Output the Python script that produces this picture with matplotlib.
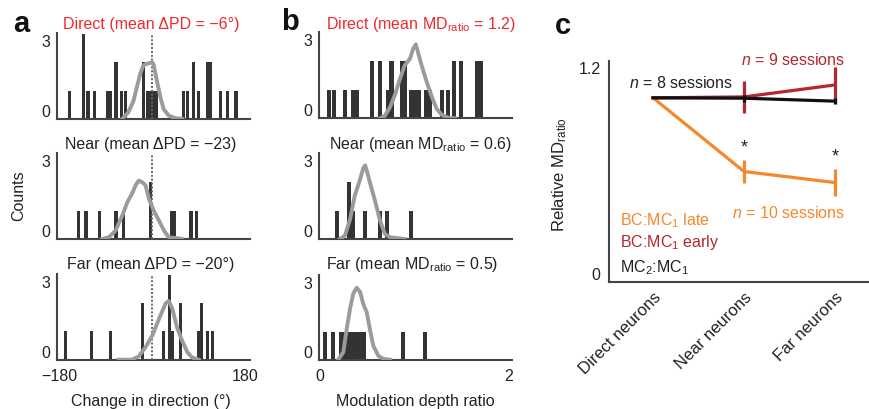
import matplotlib
matplotlib.use('Agg')
import matplotlib.pyplot as plt

plt.rcParams['font.family'] = ['Liberation Sans', 'DejaVu Sans']
plt.rcParams['mathtext.fontset'] = 'custom'
plt.rcParams['mathtext.rm'] = 'Liberation Sans'
plt.rcParams['mathtext.it'] = 'Liberation Sans:italic'
plt.rcParams['mathtext.bf'] = 'Liberation Sans:bold'

W, H = 870, 410

# ---- a: change in preferred direction (deg), bar centres and counts ----
pd_width = 6
pd_direct_x = [-159, -132, -124, -112, -87, -81, -70, -60, -51, -17, -9, -3, 3, 9,
               60, 69, 80, 90, 106, 112, 132, 146, 162]
pd_direct_n = [1, 3, 1, 1, 1, 1, 2, 1, 1, 2, 1, 1, 1, 1,
               1, 1, 2, 1, 2, 2, 1, 1, 1]
pd_near_x = [-143, -128, -102, -70, -56, -3, 37, 43, 75, 86]
pd_near_n = [1, 1, 1, 1, 1, 2, 1, 1, 1, 1]
pd_far_x = [-168, -117, -81, -18, 22, 34, 40, 54, 89, 95, 106, 116]
pd_far_n = [1, 1, 1, 2, 1, 3, 1, 2, 1, 2, 1, 1]

# shuffled (null) distributions, smoothed
pd_direct_cx = [-58, -46, -36, -30, -23, -17, -10, 0, 3, 9, 16, 22, 32, 45, 58]
pd_direct_cy = [0, 0.24, 0.65, 1.1, 1.6, 1.9, 1.95, 2.0, 1.9, 1.35, 0.76, 0.35, 0.12, 0.03, 0]
pd_near_cx = [-97, -84, -71, -58, -48, -39, -32, -26, -19, -13, -6, 3, 13, 23, 32, 52, 58]
pd_near_cy = [0, 0.06, 0.29, 0.82, 1.3, 1.6, 1.9, 2.06, 2.0, 1.9, 1.4, 1.0, 0.65, 0.29, 0.06, 0.02, 0]
pd_far_cx = [-65, -39, -26, -13, 0, 13, 26, 32, 39, 48, 58, 68, 77, 90]
pd_far_cy = [0, 0, 0.12, 0.44, 0.85, 1.44, 2.0, 2.08, 1.8, 1.14, 0.67, 0.26, 0.08, 0]

# ---- b: modulation depth ratio ----
md_width = 0.043
md_direct_x = [0.10, 0.145, 0.27, 0.35, 0.39, 0.555, 0.64, 0.72, 0.76, 0.87, 0.90,
               0.97, 1.015, 1.055, 1.13, 1.17, 1.30, 1.36, 1.42, 1.50, 1.67, 1.71]
md_direct_n = [1, 1, 1, 1, 1, 2, 2, 1, 2, 2, 2,
               1, 1, 1, 1, 1, 1, 1, 2, 2, 2, 2]
md_near_x = [0.18, 0.305, 0.35, 0.475, 0.635, 0.715, 0.965]
md_near_n = [1, 2, 1, 1, 1, 1, 1]
md_far_x = [0.056, 0.14, 0.226, 0.269, 0.312, 0.355, 0.398, 0.441, 0.468, 0.88, 1.12]
md_far_n = [1, 1, 1, 1, 1, 1, 1, 1, 1, 1, 1]

md_direct_cx = [0.64, 0.69, 0.745, 0.80, 0.85, 0.90, 0.957, 0.99, 1.018, 1.046, 1.08,
                1.135, 1.19, 1.24, 1.295, 1.365, 1.436]
md_direct_cy = [0, 0.09, 0.39, 0.86, 1.39, 1.86, 2.1, 2.45, 2.6, 2.27, 1.86,
                1.27, 0.74, 0.33, 0.12, 0.02, 0]
md_near_cx = [0.213, 0.266, 0.32, 0.37, 0.426, 0.46, 0.48, 0.503, 0.53, 0.585, 0.638,
              0.69, 0.745, 0.85, 0.9]
md_near_cy = [0, 0.12, 0.7, 1.53, 2.1, 2.5, 2.6, 2.35, 2.0, 1.35, 0.65,
              0.18, 0.06, 0.02, 0]
md_far_cx = [0.195, 0.248, 0.284, 0.32, 0.354, 0.39, 0.426, 0.46, 0.497, 0.53, 0.567,
             0.62, 0.673, 0.745]
md_far_cy = [0, 0.27, 1.1, 1.83, 2.37, 2.58, 2.43, 2.0, 1.7, 1.1, 0.5,
             0.14, 0.03, 0]

# ---- c: relative MD ratio per session group ----
groups = ['Direct neurons', 'Near neurons', 'Far neurons']
late_mean = [1.0, 0.60, 0.54]
late_err = [0, 0.063, 0.075]
early_mean = [1.0, 1.005, 1.07]
early_err = [0, 0.085, 0.095]
mc2_mean = [1.0, 0.998, 0.982]
mc2_err = [0, 0.02, 0.015]

RED = '#EC2A2F'
DARKRED = '#B3272E'
ORANGE = '#F3892C'
BAR = '#333333'
CURVE = '#9B9B9B'
SPINE = '#444444'
TXT = '#222222'
FS = 11.5

fig = plt.figure(figsize=(W / 100, H / 100), dpi=100)


def box(left, top, right, bottom):
    return fig.add_axes([left / W, 1 - bottom / H, (right - left) / W, (bottom - top) / H])


def ftext(x, y, s, **kw):
    fig.text(x / W, 1 - y / H, s, **kw)


def hist_panel(left, right, base, top3, xlim, cx, cn, width, gx, gy, zero_line):
    ymax = 3.05
    ax = box(left, base - ymax * (base - top3) / 3, right, base)
    ax.bar(cx, cn, width=width, color=BAR, linewidth=0, zorder=2)
    if zero_line:
        ax.plot([0, 0], [0, 3], ls=(0, (1, 1)), color='#666666', lw=1.4, zorder=3)
    ax.plot(gx, gy, color=CURVE, lw=2.8, solid_joinstyle='round', zorder=4)
    ax.set_xlim(*xlim)
    ax.set_ylim(0, ymax)
    for s in ['top', 'right']:
        ax.spines[s].set_visible(False)
    for s in ['left', 'bottom']:
        ax.spines[s].set_color(SPINE)
        ax.spines[s].set_linewidth(1.5)
    ax.set_yticks([0, 3])
    ax.set_yticklabels(['0', '3'])
    ax.tick_params(length=0, labelsize=FS, colors=TXT, pad=5)
    labs = ax.get_yticklabels()
    labs[0].set_verticalalignment('bottom')
    labs[1].set_verticalalignment('top')
    ax.set_xticks([])
    ax.patch.set_alpha(0)
    return ax


# panel a
a_rows = [(120, 35), (240, 155), (360.7, 276)]
pd_lim = (-184, 189)
hist_panel(57, 250, *a_rows[0], pd_lim, pd_direct_x, pd_direct_n, pd_width,
           pd_direct_cx, pd_direct_cy, True)
hist_panel(57, 250, *a_rows[1], pd_lim, pd_near_x, pd_near_n, pd_width,
           pd_near_cx, pd_near_cy, True)
ax = hist_panel(57, 250, *a_rows[2], pd_lim, pd_far_x, pd_far_n, pd_width,
                pd_far_cx, pd_far_cy, True)
ax.set_xticks([-180, 180])
ax.set_xticklabels(['\u2212180', '180'])
ax.tick_params(axis='x', pad=6)

# panel b
b_rows = [(119.3, 34), (240, 155), (360.7, 277)]
md_lim = (-0.01, 2.04)
hist_panel(319, 512, *b_rows[0], md_lim, md_direct_x, md_direct_n, md_width,
           md_direct_cx, md_direct_cy, False)
hist_panel(319, 512, *b_rows[1], md_lim, md_near_x, md_near_n, md_width,
           md_near_cx, md_near_cy, False)
ax = hist_panel(319, 512, *b_rows[2], md_lim, md_far_x, md_far_n, md_width,
                md_far_cx, md_far_cy, False)
ax.set_xticks([0, 2])
ax.set_xticklabels(['0', '2'])
ax.tick_params(axis='x', pad=6)

# titles and labels for a and b
tkw = dict(ha='center', va='center', fontsize=FS)
ftext(151, 25, 'Direct (mean \u0394PD = \u22126\u00b0)', color=RED, **tkw)
ftext(151, 145, 'Near (mean \u0394PD = \u221223)', color=TXT, **tkw)
ftext(151, 265, 'Far (mean \u0394PD = \u221220\u00b0)', color=TXT, **tkw)
ftext(421, 25, r'Direct (mean MD$_\mathrm{ratio}$ = 1.2)', color=RED, **tkw)
ftext(421, 145, r'Near (mean MD$_\mathrm{ratio}$ = 0.6)', color=TXT, **tkw)
ftext(412, 265, r'Far (mean MD$_\mathrm{ratio}$ = 0.5)', color=TXT, **tkw)
ftext(151, 402, 'Change in direction (\u00b0)', color=TXT, **tkw)
ftext(415, 402, 'Modulation depth ratio', color=TXT, **tkw)
ftext(19, 196, 'Counts', color=TXT, rotation=90, **tkw)

lkw = dict(ha='center', va='center', fontsize=21, fontweight='bold', color='#111111')
ftext(21, 24, 'a', **lkw)
ftext(290, 22, 'b', **lkw)
ftext(563, 26, 'c', **lkw)

# panel c
axc = box(609, 62, 870, 283)
xs = range(len(groups))
ekw = dict(capsize=0, elinewidth=2.3, lw=2.3)
axc.errorbar(xs, late_mean, yerr=late_err, color=ORANGE, zorder=2, **ekw)
axc.errorbar(xs, early_mean, yerr=early_err, color=DARKRED, zorder=3, **ekw)
axc.errorbar(xs, mc2_mean, yerr=mc2_err, color='#111111', zorder=4, **ekw)
for i in (1, 2):
    axc.text(i, late_mean[i] + late_err[i] + 0.07, '*', ha='center', va='center',
             fontsize=13, color=TXT)
axc.set_xlim(-0.484, 2.385)
axc.set_ylim(0, 1.2)
for s in ['top', 'right']:
    axc.spines[s].set_visible(False)
for s in ['left', 'bottom']:
    axc.spines[s].set_color(SPINE)
    axc.spines[s].set_linewidth(1.5)
axc.set_yticks([0, 1.2])
axc.set_yticklabels(['0', '1.2'])
axc.set_xticks(list(xs))
axc.set_xticklabels(groups, rotation=45, ha='right', va='top', rotation_mode='anchor')
axc.tick_params(length=0, labelsize=12, colors=TXT)
axc.tick_params(axis='y', pad=6, labelsize=FS)
axc.tick_params(axis='x', pad=5)
labs = axc.get_yticklabels()
labs[0].set_verticalalignment('bottom')
labs[1].set_verticalalignment('top')
axc.patch.set_alpha(0)

ckw = dict(va='center', fontsize=FS)
ftext(733, 83, r'$n$ = 8 sessions', ha='right', color=TXT, **ckw)
ftext(793, 60, r'$n$ = 9 sessions', ha='center', color=DARKRED, **ckw)
ftext(789, 213, r'$n$ = 10 sessions', ha='center', color=ORANGE, **ckw)
ftext(620, 221, r'BC:MC$_1$ late', ha='left', color=ORANGE, **ckw)
ftext(620, 243, r'BC:MC$_1$ early', ha='left', color=DARKRED, **ckw)
ftext(620, 268, r'MC$_2$:MC$_1$', ha='left', color=TXT, **ckw)
ftext(560, 175, r'Relative MD$_\mathrm{ratio}$', ha='center', color=TXT,
      rotation=90, va='center', fontsize=12)

fig.savefig('out.png', dpi=100)
